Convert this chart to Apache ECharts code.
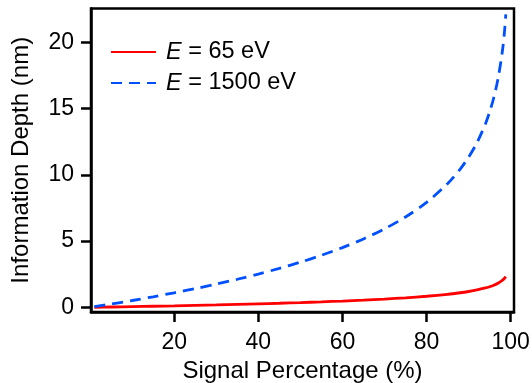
<!DOCTYPE html>
<html>
<head>
<meta charset="utf-8">
<script src="https://cdn.jsdelivr.net/npm/echarts@6/dist/echarts.min.js"></script>
<style>
  html, body { margin: 0; padding: 0; background: #fff; }
  #chart { width: 532px; height: 383px; }
</style>
</head>
<body>
<div id="chart"></div>
<script>
// Signal percentage (%) at which the information depth is given
const signalPct = [1, 5, 10, 15, 20, 25, 30, 35, 40, 45, 50, 55, 60, 65, 70, 75, 80, 85, 88, 90, 92, 94, 95, 96, 97, 98, 98.5, 98.85];

// Information depth (nm) for E = 65 eV
const depth65 = [0.005, 0.027, 0.055, 0.085, 0.116, 0.150, 0.185, 0.224, 0.266, 0.311, 0.360, 0.415, 0.476, 0.546, 0.626, 0.721, 0.837, 0.986, 1.103, 1.197, 1.313, 1.463, 1.558, 1.674, 1.823, 2.034, 2.184, 2.32];

// Information depth (nm) for E = 1500 eV
const depth1500 = [0.049, 0.252, 0.518, 0.800, 1.098, 1.415, 1.755, 2.120, 2.513, 2.941, 3.410, 3.929, 4.508, 5.165, 5.924, 6.821, 7.918, 9.334, 10.432, 11.329, 12.426, 13.842, 14.739, 15.837, 17.252, 19.247, 20.663, 22.1];

const xTicks = [20, 40, 60, 80, 100];
const yTicks = [0, 5, 10, 15, 20];

const seriesNames = ['E = 65 eV', 'E = 1500 eV'];
const legendRich = ['{i|E} = 65 eV', '{i|E} = 1500 eV'];

const FONT = "'Liberation Sans', Arial, Helvetica, sans-serif";

const pairs = (xs, ys) => xs.map((x, i) => [x, ys[i]]);

const chart = echarts.init(document.getElementById('chart'), null, { renderer: 'canvas' });

chart.setOption({
  animation: false,
  backgroundColor: '#fff',
  textStyle: { fontFamily: FONT, color: '#000' },
  grid: {
    left: 91, top: 8.5, right: 18, bottom: 71,
    outerBoundsMode: 'none',
    containLabel: false,
    show: true, borderColor: '#000', borderWidth: 2.5, backgroundColor: 'transparent'
  },
  legend: {
    orient: 'vertical',
    left: 110, top: 40,
    padding: 0,
    itemWidth: 45, itemHeight: 14, itemGap: 7,
    data: seriesNames,
    formatter: name => legendRich[seriesNames.indexOf(name)],
    itemStyle: { opacity: 0, borderWidth: 0 },
    textStyle: {
      fontFamily: FONT, fontSize: 23.5, color: '#000', lineHeight: 21,
      padding: [0, 0, 0, 5],
      rich: { i: { fontStyle: 'italic', fontSize: 23.5, fontFamily: FONT, color: '#000' } }
    }
  },
  xAxis: {
    type: 'value',
    min: 0.2, max: 100.8,
    name: 'Signal Percentage (%)',
    nameLocation: 'middle',
    nameGap: 46,
    nameTextStyle: { fontFamily: FONT, fontSize: 24, color: '#000' },
    splitLine: { show: false },
    axisLine: { show: true, onZero: false, lineStyle: { color: '#000', width: 2.5 } },
    axisTick: { show: true, length: 10, lineStyle: { color: '#000', width: 2.5 }, customValues: xTicks },
    axisLabel: { fontFamily: FONT, fontSize: 23, color: '#000', margin: 19, customValues: xTicks }
  },
  yAxis: {
    type: 'value',
    min: -0.35, max: 22.55,
    name: 'Information Depth (nm)',
    nameLocation: 'middle',
    nameGap: 58,
    nameTextStyle: { fontFamily: FONT, fontSize: 24, color: '#000' },
    splitLine: { show: false },
    axisLine: { show: true, onZero: false, lineStyle: { color: '#000', width: 2.5 } },
    axisTick: { show: true, length: 10, lineStyle: { color: '#000', width: 2.5 }, customValues: yTicks },
    axisLabel: { fontFamily: FONT, fontSize: 23, color: '#000', margin: 17, customValues: yTicks }
  },
  series: [
    {
      name: seriesNames[0],
      type: 'line',
      data: pairs(signalPct, depth65),
      showSymbol: false,
      symbol: 'none',
      smooth: 0.3,
      color: '#ff0000',
      lineStyle: { color: '#ff0000', width: 2.8, type: 'solid' }
    },
    {
      name: seriesNames[1],
      type: 'line',
      data: pairs(signalPct, depth1500),
      showSymbol: false,
      symbol: 'none',
      smooth: 0.3,
      color: '#0050ff',
      lineStyle: { color: '#0050ff', width: 2.8, type: [11, 7] }
    }
  ]
});
</script>
</body>
</html>
